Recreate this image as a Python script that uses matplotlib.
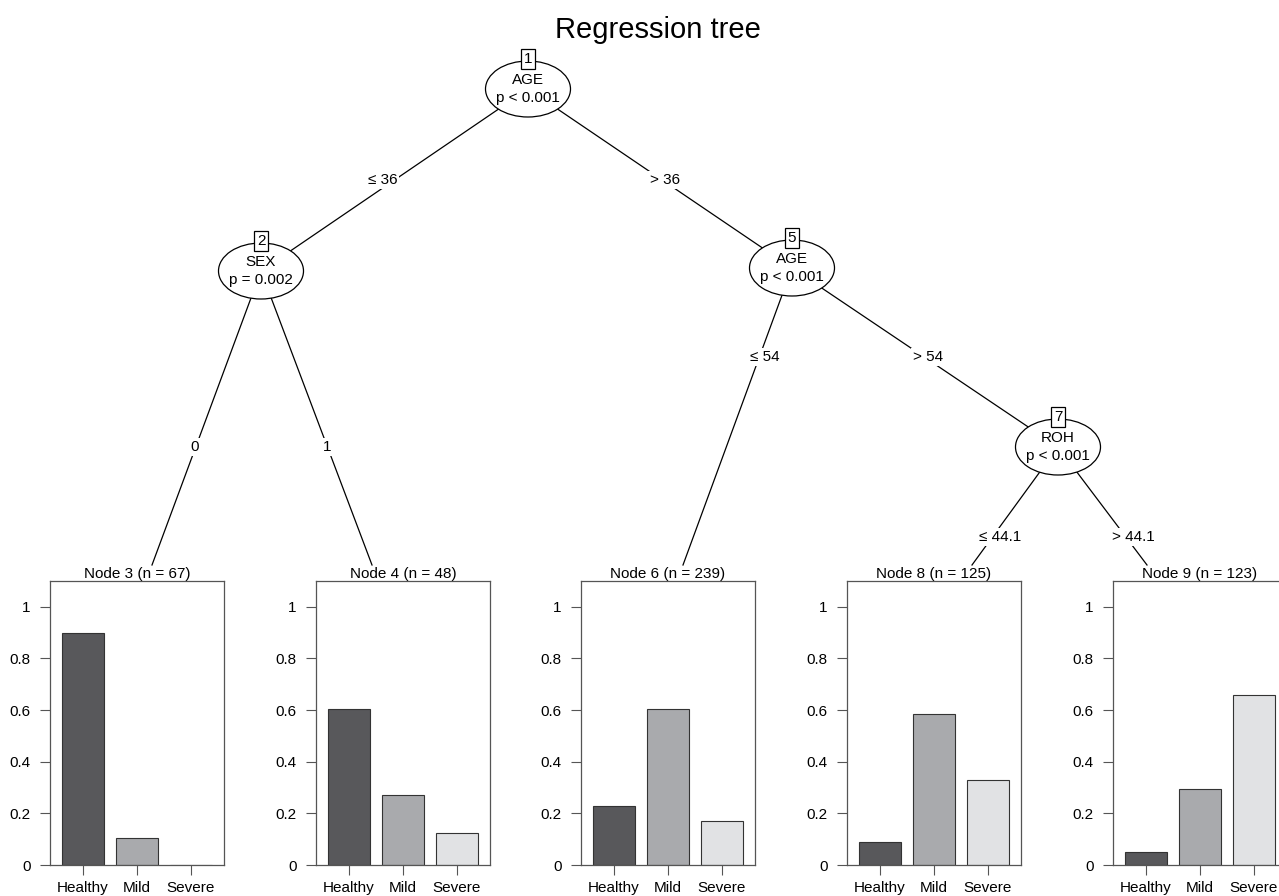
import matplotlib.pyplot as plt
from matplotlib.patches import Ellipse

plt.rcParams['font.family'] = ['Liberation Sans', 'DejaVu Sans']

# dados dos nós terminais (proporções por classe)
classes = ['Healthy', 'Mild', 'Severe']
node_ids = [3, 4, 6, 8, 9]
node_n = [67, 48, 239, 125, 123]
healthy = [0.897, 0.604, 0.227, 0.089, 0.049]
mild = [0.106, 0.271, 0.603, 0.585, 0.294]
severe = [0.0, 0.125, 0.172, 0.329, 0.659]

# nós internos
inner_ids = [1, 2, 5, 7]
inner_var = ['AGE', 'SEX', 'AGE', 'ROH']
inner_p = ['p < 0.001', 'p = 0.002', 'p < 0.001', 'p < 0.001']

# arestas (pai, filho, rótulo)
edges = [(1, 2, '≤ 36'), (1, 5, '> 36'), (2, 3, '0'), (2, 4, '1'),
         (5, 6, '≤ 54'), (5, 7, '> 54'), (7, 8, '≤ 44.1'), (7, 9, '> 44.1')]

# layout em pixels
W, H = 1279, 896
inner_pos = {1: (528, 89), 2: (261, 271), 5: (792, 268), 7: (1058, 447)}
term_top = {3: (152, 565), 4: (372, 565), 6: (683, 565), 8: (972, 565), 9: (1147, 565)}
label_pos = {(1, 2): (383, 180), (1, 5): (665, 180), (2, 3): (195, 447), (2, 4): (327, 447),
             (5, 6): (765, 357), (5, 7): (928, 357), (7, 8): (1000, 537), (7, 9): (1133, 537)}
panel_left = [50, 316, 581, 847, 1113]
panel_top, panel_bottom, panel_w = 581, 865, 174

colors = ['#58585b', '#a9aaad', '#e1e2e4']
fs = 11

fig = plt.figure(figsize=(W / 100, H / 100), dpi=100)
ax0 = fig.add_axes([0, 0, 1, 1])
ax0.set_xlim(0, W)
ax0.set_ylim(H, 0)
ax0.axis('off')

ax0.text(658, 30, 'Regression tree', ha='center', va='center', fontsize=21)

# arestas
for parent, child, lab in edges:
    x0, y0 = inner_pos[parent]
    x1, y1 = inner_pos[child] if child in inner_pos else term_top[child]
    ax0.plot([x0, x1], [y0, y1], color='black', lw=0.9, zorder=1)
    lx, ly = label_pos[(parent, child)]
    ax0.text(lx, ly, lab, ha='center', va='center', fontsize=fs, zorder=3,
             bbox=dict(boxstyle='square,pad=0.1', fc='white', ec='none'))

# nós internos
for nid, var, p in zip(inner_ids, inner_var, inner_p):
    cx, cy = inner_pos[nid]
    ax0.add_patch(Ellipse((cx, cy), 85, 56, fc='white', ec='black', lw=0.9, zorder=2))
    ax0.text(cx, cy - 9, var, ha='center', va='center', fontsize=fs, zorder=4)
    ax0.text(cx, cy + 9, p, ha='center', va='center', fontsize=fs, zorder=4)
    ax0.text(cx, cy - 30, str(nid), ha='center', va='center', fontsize=fs, zorder=5,
             bbox=dict(boxstyle='square,pad=0.2', fc='white', ec='black', lw=0.9))

# painéis dos nós terminais
for i, nid in enumerate(node_ids):
    left = panel_left[i]
    ax = fig.add_axes([left / W, 1 - panel_bottom / H, panel_w / W, (panel_bottom - panel_top) / H])
    vals = [healthy[i], mild[i], severe[i]]
    ax.bar(range(3), vals, width=0.78, color=colors, edgecolor='#333333', linewidth=0.8)
    ax.set_xlim(-0.611, 2.611)
    ax.set_ylim(0, 1.1)
    ax.set_yticks([0, 0.2, 0.4, 0.6, 0.8, 1])
    ax.set_yticklabels(['0', '0.2', '0.4', '0.6', '0.8', '1'])
    ax.set_xticks(range(3))
    ax.set_xticklabels(classes)
    ax.tick_params(direction='out', length=7, width=0.8, color='#555555',
                   labelsize=fs, pad=4.5)
    ax.tick_params(axis='y', pad=7)
    for s in ax.spines.values():
        s.set_color('#555555')
        s.set_linewidth(0.9)
    ax.set_title(f'Node {nid} (n = {node_n[i]})', fontsize=fs, pad=1.5)

fig.savefig('out.png', dpi=100)
